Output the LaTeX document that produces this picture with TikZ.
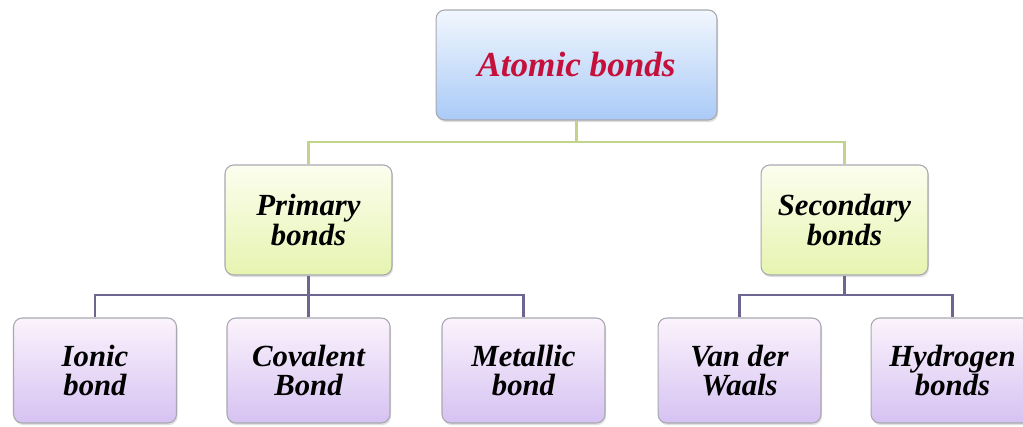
\documentclass[tikz,border=0pt]{standalone}
\usepackage{fontspec}
\setmainfont{Liberation Serif}
\usetikzlibrary{positioning}
\usetikzlibrary{shadows}

\definecolor{titlered}{HTML}{C4103A}
\definecolor{boxedge}{HTML}{A8A8B0}
\definecolor{blueTop}{HTML}{F2F7FE}
\definecolor{blueBot}{HTML}{A9CAF6}
\definecolor{limeTop}{HTML}{FCFEEE}
\definecolor{limeBot}{HTML}{E6F4B0}
\definecolor{lilacTop}{HTML}{FBF3FC}
\definecolor{lilacBot}{HTML}{D6C2F2}
\definecolor{limeline}{HTML}{C2D38C}
\definecolor{lilacline}{HTML}{6E6690}

\tikzset{
  bondbox/.style={draw=boxedge, line width=0.6pt, rounded corners=5pt,
    inner sep=0pt, align=center, font=\fontsize{17.5}{17}\selectfont\bfseries\itshape,
    drop shadow={opacity=0.25, shadow xshift=0.6pt, shadow yshift=-1.2pt}},
  rootbox/.style={bondbox, minimum width=5.62cm, minimum height=2.2cm,
    top color=blueTop, bottom color=blueBot, text=titlered,
    font=\fontsize{20}{20}\selectfont\bfseries\itshape},
  kindbox/.style={bondbox, minimum width=3.34cm, minimum height=2.2cm,
    top color=limeTop, bottom color=limeBot},
  leafbox/.style={bondbox, minimum width=3.26cm, minimum height=2.1cm,
    top color=lilacTop, bottom color=lilacBot},
  limewire/.style={draw=limeline, line width=1.3pt},
  lilacwire/.style={draw=lilacline, line width=1.3pt}
}

\begin{document}
\begin{tikzpicture}[x=0.02cm, y=-0.02cm]
		\useasboundingbox (0,0) rectangle (1023,426);
		
		\node[rootbox] (atomic) at (576.5,65) {Atomic bonds};
		
		\node[kindbox] (primary) at (308.5,220) {Primary\\bonds};
		\node[kindbox] (secondary) at (844.5,220) {Secondary\\bonds};
		
		\node[leafbox] (ionic) at (95,370.5) {Ionic\\bond};
		\node[leafbox] (covalent) at (308.5,370.5) {Covalent\\Bond};
		\node[leafbox] (metallic) at (523.5,370.5) {Metallic\\bond};
		\node[leafbox] (vdw) at (739.5,370.5) {Van der\\Waals};
		\node[leafbox] (hydrogen) at (952.5,370.5) {Hydrogen\\bonds};
		
		% junctions of the tree
		\coordinate (topjoin) at (576.5,142);
		\coordinate (leftjoin) at (308.5,295);
		\coordinate (rightjoin) at (844.5,295);
		
		\draw[limewire] (atomic.south) -- (topjoin);
		\draw[limewire] (primary.north) |- (topjoin) -| (secondary.north);
		
		\draw[lilacwire] (primary.south) -- (covalent.north);
		\draw[lilacwire] (ionic.north) |- (leftjoin) -| (metallic.north);
		\draw[lilacwire] (secondary.south) -- (rightjoin);
		\draw[lilacwire] (vdw.north) |- (rightjoin) -| (hydrogen.north);
	\end{tikzpicture}
\end{document}
